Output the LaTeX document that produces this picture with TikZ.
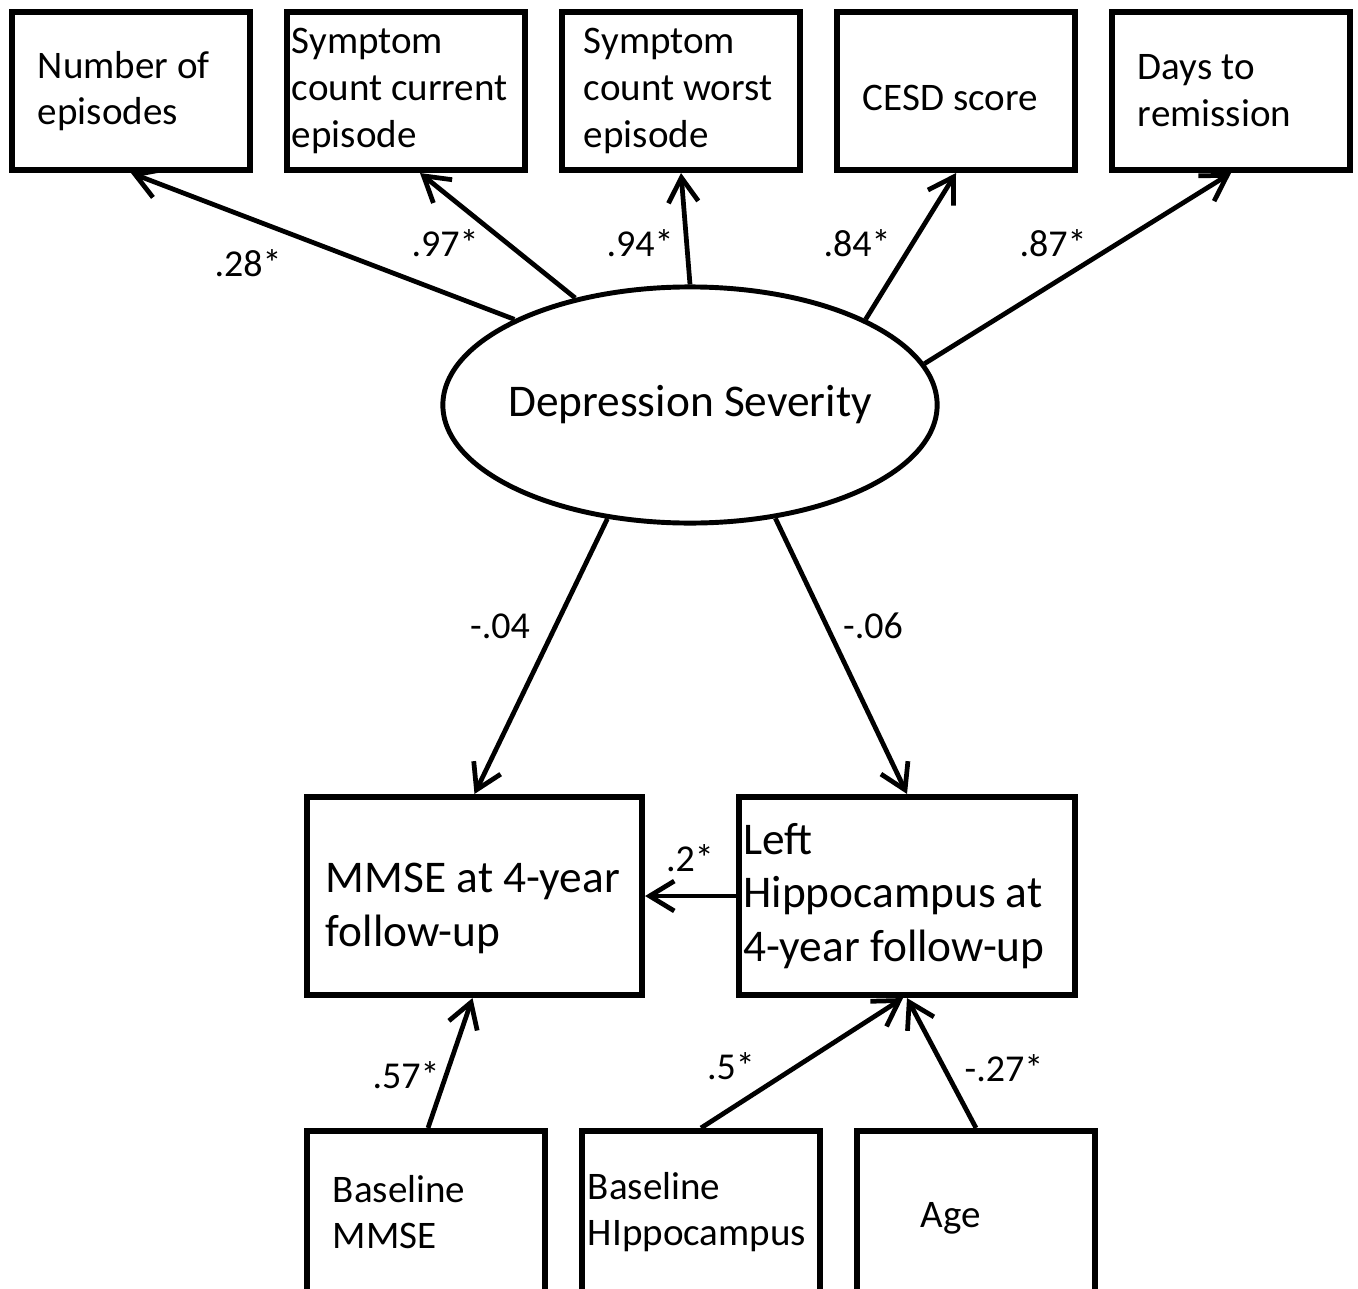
\documentclass[tikz,border=0pt]{standalone}
\usepackage{fontspec}
\setmainfont{Carlito}
\usetikzlibrary{shapes.geometric}
\usetikzlibrary{arrows.meta}

\begin{document}
\begin{tikzpicture}[x=0.01cm, y=-0.01cm,
            obs node/.style={rectangle, draw, line width=1.7pt, minimum width=2.38cm, minimum height=1.58cm, inner xsep=0.26cm, text width=1.86cm, align=flush left, font=\fontsize{11.1}{13.3}\selectfont},
            out node/.style={rectangle, draw, line width=1.7pt, minimum width=3.35cm, minimum height=1.98cm, align=flush left, font=\fontsize{12.9}{15.3}\selectfont},
            latent node/.style={ellipse, draw, line width=1.4pt, minimum width=4.94cm, minimum height=2.36cm, inner xsep=-0.1cm, inner ysep=0pt, font=\fontsize{12.9}{15}\selectfont},
            path link/.style={line width=1.35pt, -{Straight Barb[length=7pt, width=8.5pt]}},
            coef/.style={font=\fontsize{10.8}{13}\selectfont, inner sep=0pt},
            ]
            \useasboundingbox (0,0) rectangle (1358,1288);
            \clip (0,0) rectangle (1358,1288);

            % indicators
            \node[obs node] (nep) at (131,91) {Number of\\episodes};
            \node[obs node, inner xsep=0.05cm, text width=2.28cm] (cur) at (406,91) {Symptom\\count current\\episode};
            \node[obs node, inner xsep=0.22cm, text width=1.94cm] (wor) at (681,91) {Symptom\\count worst\\episode};
            \node[obs node] (cesd) at (956,91) {\rule{0pt}{11pt}CESD score};
            \node[obs node] (days) at (1231,91) {Days to\\remission};

            \node[latent node] (sev) at (690,405) {Depression Severity};

            % outcomes
            \node[out node, inner xsep=0.19cm, text width=2.97cm] (mmse) at (474.5,896) {\rule{0pt}{15.6pt}MMSE at 4-year\\follow-up};
            \node[out node, inner xsep=0.04cm, text width=3.27cm] (hip) at (907,896) {Left\\Hippocampus at\\4-year follow-up};

            % covariates
            \node[obs node, minimum height=1.62cm] (bmmse) at (426,1212) {Baseline\\MMSE};
            \node[obs node, minimum height=1.62cm, inner xsep=0.06cm, text width=2.26cm] (bhip) at (701,1212) {Baseline\\HIppocampus};
            \node[obs node, minimum height=1.62cm, inner xsep=0.64cm, text width=1.10cm] (age) at (976,1212) {\rule{0pt}{10.5pt}Age};

            \draw[path link] (sev.154) -- (nep.south);
            \draw[path link] (sev.137) -- ([xshift=0.14cm]cur.south);
            \draw[path link] (sev.90) -- (wor.south);
            \draw[path link] (sev.26) -- (cesd.south);
            \draw[path link] (sev.10) -- (days.south);
            \draw[path link] (sev.-126) -- (mmse.north);
            \draw[path link] (sev.-53) -- (hip.north);
            \draw[path link] (hip.west) -- (mmse.east);
            \draw[path link] ([xshift=0.02cm]bmmse.north) -- ([xshift=-0.02cm]mmse.south);
            \draw[path link] (bhip.north) -- ([xshift=-0.04cm]hip.south);
            \draw[path link] (age.north) -- (hip.south);

            \node[coef] (c1) at (248,263) {.28*};
            \node[coef] (c2) at (445,243) {.97*};
            \node[coef] (c3) at (640,243) {.94*};
            \node[coef] (c4) at (857,243) {.84*};
            \node[coef] (c5) at (1053,243) {.87*};
            \node[coef] (c6) at (500,626) {-.04};
            \node[coef] (c7) at (873,626) {-.06};
            \node[coef] (c8) at (690,858) {.2*};
            \node[coef] (c9) at (406,1075) {.57*};
            \node[coef] (c10) at (731,1066) {.5*};
            \node[coef] (c11) at (1004,1068) {-.27*};
        \end{tikzpicture}
\end{document}
